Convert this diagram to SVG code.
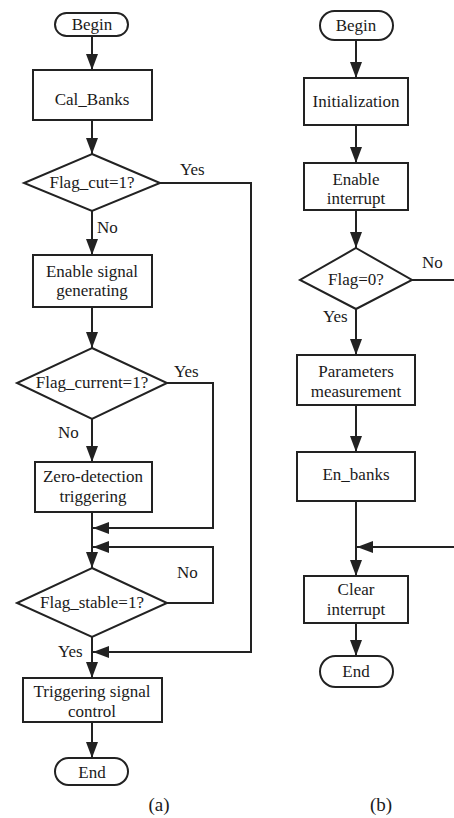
<svg xmlns="http://www.w3.org/2000/svg" width="454" height="818" viewBox="0 0 454 818">
<style>
.s{fill:#fff;stroke:#222;stroke-width:2}
.c{fill:none;stroke:#222;stroke-width:2}
text{font-family:"Liberation Serif","Times New Roman",serif;font-size:17px;fill:#1a1a1a}
.m{text-anchor:middle}
.cap{font-size:19px}
</style>
<defs>
<marker id="ah" markerUnits="userSpaceOnUse" markerWidth="16" markerHeight="12" viewBox="0 0 16 12" refX="16" refY="6" orient="auto">
<path d="M0,0 L16,6 L0,12 Z" fill="#222"/>
</marker>
</defs>
<rect width="454" height="818" fill="#fff"/>

<g id="connectors">
<!-- (a) -->
<path class="c" d="M92,35 V70" marker-end="url(#ah)"/>
<path class="c" d="M92,120 V154" marker-end="url(#ah)"/>
<path class="c" d="M92,211 V255" marker-end="url(#ah)"/>
<path class="c" d="M92,307 V348" marker-end="url(#ah)"/>
<path class="c" d="M92,419 V462" marker-end="url(#ah)"/>
<path class="c" d="M92,512 V568" marker-end="url(#ah)"/>
<path class="c" d="M167,383 H213 V528 H93" marker-end="url(#ah)"/>
<path class="c" d="M167,603 H213 V547 H93" marker-end="url(#ah)"/>
<path class="c" d="M160,183 H251 V652 H93" marker-end="url(#ah)"/>
<path class="c" d="M92,637 V678" marker-end="url(#ah)"/>
<path class="c" d="M92,722 V758" marker-end="url(#ah)"/>
<!-- (b) -->
<path class="c" d="M356,40 V78" marker-end="url(#ah)"/>
<path class="c" d="M356,125 V163" marker-end="url(#ah)"/>
<path class="c" d="M356,210 V248" marker-end="url(#ah)"/>
<path class="c" d="M412,280 H454"/>
<path class="c" d="M356,309 V355" marker-end="url(#ah)"/>
<path class="c" d="M356,405 V452" marker-end="url(#ah)"/>
<path class="c" d="M356,501 V576" marker-end="url(#ah)"/>
<path class="c" d="M454,547 H357" marker-end="url(#ah)"/>
<path class="c" d="M356,623 V656" marker-end="url(#ah)"/>
</g>

<g id="labels">
<text x="180" y="175">Yes</text>
<text x="97" y="233">No</text>
<text x="174" y="377">Yes</text>
<text x="58" y="438">No</text>
<text x="177" y="578">No</text>
<text x="58" y="657">Yes</text>
<text x="422" y="268">No</text>
<text x="323" y="322">Yes</text>
</g>

<!-- (a) nodes -->
<g id="a_begin"><rect class="s" x="55" y="13" width="73" height="23" rx="11.5"/><text class="m" x="92" y="30">Begin</text></g>
<g id="a_calbanks"><rect class="s" x="33" y="70" width="119" height="50"/><text class="m" x="92" y="105">Cal_Banks</text></g>
<g id="a_flagcut"><polygon class="s" points="92,154 160,183 92,211 24,183"/><text class="m" x="92" y="188">Flag_cut=1?</text></g>
<g id="a_enable"><rect class="s" x="33" y="255" width="119" height="52"/><text class="m" x="92" y="277">Enable signal</text><text class="m" x="92" y="296">generating</text></g>
<g id="a_flagcurrent"><polygon class="s" points="92,348 167,383 92,419 17,383"/><text class="m" x="92" y="388">Flag_current=1?</text></g>
<g id="a_zero"><rect class="s" x="35" y="462" width="117" height="50"/><text class="m" x="93" y="482">Zero-detection</text><text class="m" x="93" y="502">triggering</text></g>
<g id="a_flagstable"><polygon class="s" points="92,568 167,603 92,637 17,603"/><text class="m" x="92" y="608">Flag_stable=1?</text></g>
<g id="a_trigger"><rect class="s" x="23" y="678" width="139" height="44"/><text class="m" x="92" y="697">Triggering signal</text><text class="m" x="92" y="717">control</text></g>
<g id="a_end"><rect class="s" x="55" y="758" width="73" height="27" rx="13.5"/><text class="m" x="92" y="778">End</text></g>
<text class="m cap" x="159" y="811">(a)</text>

<!-- (b) nodes -->
<g id="b_begin"><rect class="s" x="320" y="11" width="73" height="29" rx="14.5"/><text class="m" x="356" y="31">Begin</text></g>
<g id="b_init"><rect class="s" x="304" y="78" width="104" height="47"/><text class="m" x="356" y="107">Initialization</text></g>
<g id="b_enable"><rect class="s" x="304" y="163" width="104" height="47"/><text class="m" x="356" y="185">Enable</text><text class="m" x="356" y="204">interrupt</text></g>
<g id="b_flag"><polygon class="s" points="356,248 412,280 356,309 300,280"/><text class="m" x="356" y="285">Flag=0?</text></g>
<g id="b_params"><rect class="s" x="297" y="355" width="118" height="50"/><text class="m" x="356" y="377">Parameters</text><text class="m" x="356" y="397">measurement</text></g>
<g id="b_enbanks"><rect class="s" x="297" y="452" width="118" height="49"/><text class="m" x="356" y="480">En_banks</text></g>
<g id="b_clear"><rect class="s" x="304" y="576" width="104" height="47"/><text class="m" x="356" y="595">Clear</text><text class="m" x="356" y="615">interrupt</text></g>
<g id="b_end"><rect class="s" x="320" y="656" width="73" height="31" rx="15.5"/><text class="m" x="356" y="677">End</text></g>
<text class="m cap" x="381" y="811">(b)</text>
</svg>
